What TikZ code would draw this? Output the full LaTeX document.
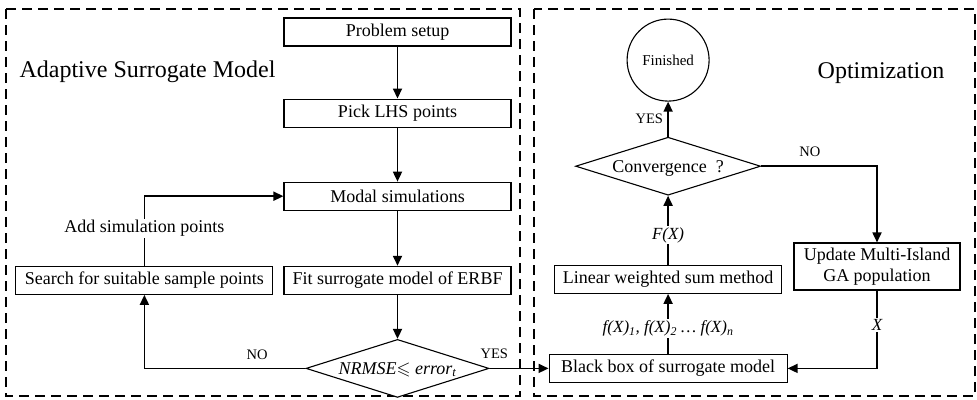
\documentclass[tikz,border=0pt]{standalone}
\usepackage{amssymb}
\usepackage{fontspec}
\setmainfont{Liberation Serif}
\usetikzlibrary{shapes.geometric, arrows.meta, positioning}

\begin{document}
\begin{tikzpicture}[
    x=1pt, y=-1pt,
    box/.style={rectangle, draw=black, line width=1.1pt, fill=white,
                align=center, font=\fontsize{18}{21.5}\selectfont,
                inner sep=0pt, minimum height=28pt, minimum width=227pt},
    decide/.style={diamond, draw=black, line width=1.1pt, fill=white,
                   aspect=3.14, font=\fontsize{18}{21.5}\selectfont,
                   inner sep=0pt, text height=12pt, text depth=0pt,
                   minimum width=183pt, minimum height=58pt},
    stopnode/.style={circle, draw=black, line width=1.1pt, fill=white,
                     inner sep=0pt, minimum size=82pt,
                     font=\fontsize{15}{18}\selectfont},
    arrow/.style={-{Triangle[length=10pt,width=9pt]}, line width=1.7pt},
    frame/.style={dash pattern=on 10pt off 6pt, line width=1.4pt},
    title/.style={font=\fontsize{24}{28}\selectfont},
    tag/.style={font=\fontsize{14.5}{17}\selectfont},
    flow/.style={font=\fontsize{17}{20}\selectfont\itshape, fill=white,
                 inner sep=1.5pt}
]
\useasboundingbox (0,0) rectangle (977,399);

% frames
\draw[frame] (6,9) rectangle (520,396);
\draw[frame] (534,9) rectangle (975,396);

% Adaptive surrogate model
\node[title, anchor=west] (asm_title) at (16,72) {Adaptive Surrogate Model};
\node[box] (asm_setup) at (397.5,32) {Problem setup};
\node[box, below=52pt of asm_setup] (asm_lhs) {Pick LHS points};
\node[box, below=54pt of asm_lhs] (asm_modal) {Modal simulations};
\node[box, below=55pt of asm_modal] (asm_fit) {Fit surrogate model of ERBF};
\node[box, left=10pt of asm_fit, minimum width=257pt] (asm_search) {Search for suitable sample points};
\node[decide, below=44pt of asm_fit] (asm_check) {\textit{NRMSE}$\leqslant$ \textit{error\textsubscript{t}}};
\draw[arrow] (asm_setup) -- (asm_lhs);
\draw[arrow] (asm_lhs) -- (asm_modal);
\draw[arrow] (asm_modal) -- (asm_fit);
\draw[arrow] (asm_fit) -- (asm_check);
\draw[arrow] (asm_check.west) -| node[tag, pos=0.15, above=5pt] {NO} (asm_search.south);
\draw[arrow] (asm_search.north) |- node[pos=0.27, fill=white, inner sep=1.5pt,
    font=\fontsize{18}{21.5}\selectfont] {Add simulation points} (asm_modal.west);

% Optimization
\node[title] (opt_title) at (881,73) {Optimization};
\node[box, minimum width=238pt, right=59pt of asm_check] (opt_black) {Black box of surrogate model};
\node[box, above=60pt of opt_black] (opt_linsum) {Linear weighted sum method};
\node[decide, above=69pt of opt_linsum, minimum width=185pt] (opt_conv) {Convergence\ \ ?};
\node[stopnode, above=35pt of opt_conv] (opt_done) {Finished};
\node[box, minimum width=166pt, minimum height=47pt] (opt_update) at (877,266.5) {Update Multi-Island\\GA population};
\draw[arrow] (asm_check.east) -- node[tag, pos=0.08, above=6pt] {YES} (opt_black.west);
\draw[arrow] (opt_black) -- node[flow, pos=0.42] {f(X)\textsubscript{1}, f(X)\textsubscript{2} \dots\ f(X)\textsubscript{n}} (opt_linsum);
\draw[arrow] (opt_linsum) -- node[flow, pos=0.43] {F(X)} (opt_conv);
\draw[arrow] (opt_conv) -- node[tag, left=1pt] {YES} (opt_done);
\draw[arrow] (opt_conv.east) -| node[tag, pos=0.21, above=5pt] {NO} (opt_update.north);
\draw[arrow] (opt_update.south) |- node[flow, pos=0.22] {X} (opt_black.east);

\end{tikzpicture}
\end{document}
